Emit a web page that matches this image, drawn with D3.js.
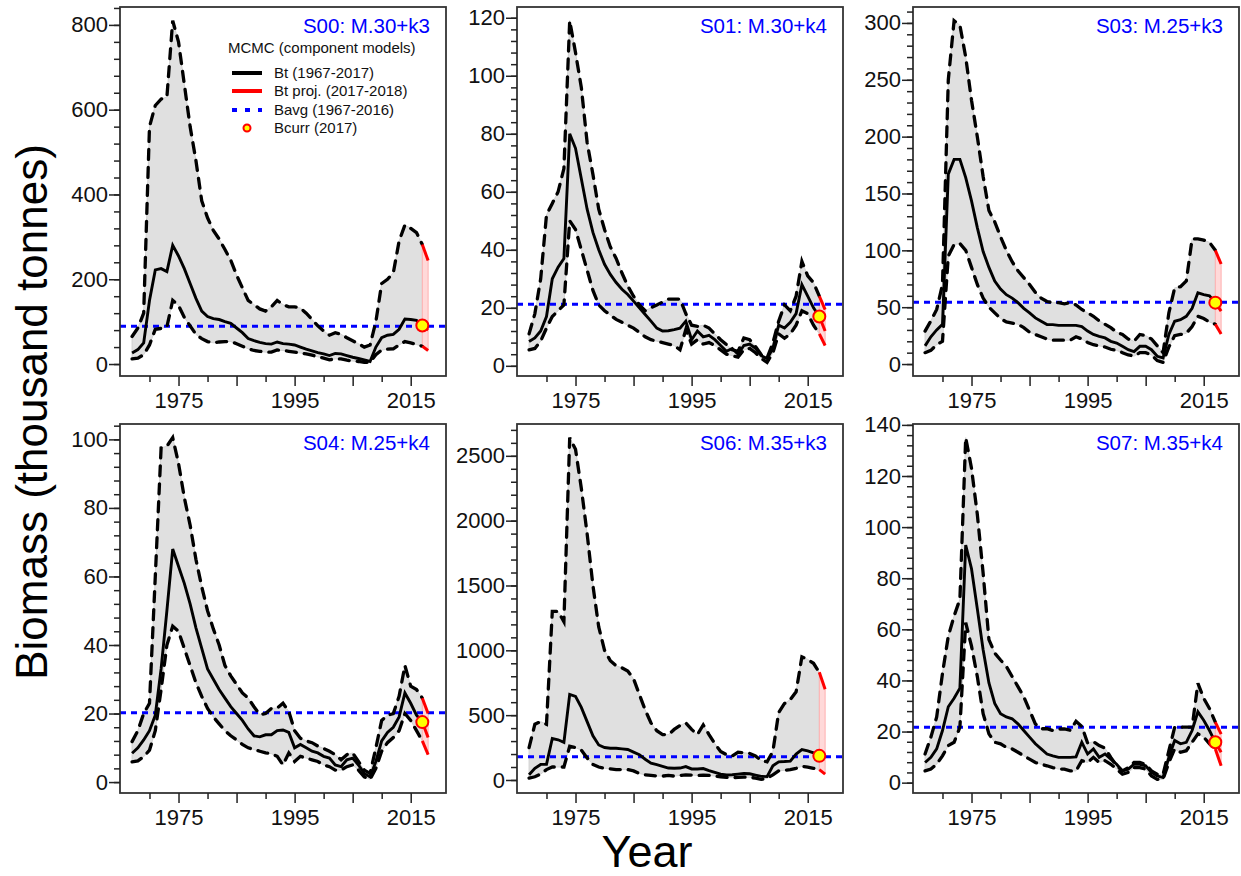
<!DOCTYPE html>
<html>
<head>
<meta charset="utf-8">
<script src="https://cdn.jsdelivr.net/npm/d3@7/dist/d3.min.js"></script>
<style>
  body { margin: 0; background: #ffffff; }
  svg { font-family: "Liberation Sans", Arial, sans-serif; }
</style>
</head>
<body>
<svg id="chart" width="1241" height="876"></svg>
<script>

//////////////////////
// Data
//////////////////////

var years = [1967, 1968, 1969, 1970, 1971, 1972, 1973, 1974, 1975, 1976,
             1977, 1978, 1979, 1980, 1981, 1982, 1983, 1984, 1985, 1986,
             1987, 1988, 1989, 1990, 1991, 1992, 1993, 1994, 1995, 1996,
             1997, 1998, 1999, 2000, 2001, 2002, 2003, 2004, 2005, 2006,
             2007, 2008, 2009, 2010, 2011, 2012, 2013, 2014, 2015, 2016,
             2017, 2018];
var xlim = [1967, 2019];
var lastObsYear = 2017;

var titles = ["S00: M.30+k3", "S01: M.30+k4", "S03: M.25+k3",
              "S04: M.25+k4", "S06: M.35+k3", "S07: M.35+k4"];
var yMajorStep = [200, 20, 50, 20, 500, 20];
var yMinorStep = [40, 4, 10, 4, 100, 4];
var bavg = [89, 21.2, 54.4, 20.2, 180, 21.7];

var s00Upper  = [65, 85, 120, 560, 610, 625, 630, 810, 760, 660,
                 560, 480, 385, 345, 315, 295, 270, 245, 210, 180,
                 150, 140, 130, 125, 135, 150, 140, 135, 135, 132,
                 120, 105, 90, 78, 68, 74, 70, 62, 55, 48,
                 40, 45, 100, 190, 200, 215, 290, 328, 320, 310,
                 282, 244];
var s00Median = [26, 34, 50, 150, 222, 225, 218, 280, 255, 225,
                 190, 155, 125, 112, 107, 105, 100, 96, 85, 74,
                 60, 55, 51, 48, 47, 52, 48, 47, 45, 40,
                 35, 31, 27, 24, 20, 25, 24, 20, 16, 13,
                 10, 6, 40, 62, 68, 70, 82, 106, 105, 103,
                 91, 80];
var s00Lower  = [12, 14, 22, 45, 82, 84, 88, 150, 138, 110,
                 90, 70, 60, 53, 50, 52, 53, 53, 48, 42,
                 36, 32, 30, 28, 28, 33, 32, 30, 28, 26,
                 24, 21, 17, 14, 10, 12, 12, 9, 7, 6,
                 4, 4, 22, 33, 35, 36, 45, 53, 50, 46,
                 42, 32];

var s01Upper  = [11, 18, 30, 52, 56, 60, 68, 119, 108, 96,
                 77, 66, 54, 47, 41, 37, 32, 27.5, 24, 21,
                 19, 20, 21, 22, 23, 23, 23, 18, 14, 13.6,
                 14, 13, 11, 9, 7.3, 5.5, 5, 9.6, 9, 6.7,
                 3.8, 2.7, 7.9, 15.4, 21, 19, 24, 36, 31, 28.7,
                 24, 19.4];
var s01Median = [8.4, 9.6, 12, 17, 30, 34, 37, 80, 75, 64.5,
                 54, 46, 40, 35, 31.5, 28.7, 26.4, 24.6, 22.3, 20,
                 17.7, 15.4, 13, 12, 12.1, 12.5, 13, 15.4, 9, 12,
                 10, 10.5, 9, 7, 5, 6, 4, 7, 7.5, 6,
                 3.5, 2.5, 6, 14, 13, 15, 18, 28, 24, 20,
                 17, 12];
var s01Lower  = [5.5, 6, 8.5, 13, 17, 19, 21, 50, 47, 40,
                 33, 26, 21, 19, 17.5, 16, 15, 14, 13, 11.5,
                 10, 9, 8.5, 8, 7.5, 7, 5.5, 12.5, 7.5, 9,
                 7.5, 8, 7, 5.5, 4, 3.5, 3, 5.5, 6, 4.5,
                 2.5, 1.2, 4.5, 11, 9.5, 11, 14, 19, 18, 14,
                 11, 7];

var s03Upper  = [29, 38, 48, 70, 250, 302, 298, 270, 232, 200,
                 165, 135, 125, 112, 100, 90, 82, 76, 70, 63,
                 58, 55, 54, 54, 53, 54, 52, 48, 45, 42,
                 38, 35, 32, 28, 26, 22, 20, 26, 25, 22,
                 16, 10, 45, 67, 68, 73, 110, 110, 109, 107,
                 100, 88];
var s03Median = [16, 24, 30, 35, 167, 180, 180, 164, 143.5, 120,
                 99, 85, 73, 66, 61, 58, 54, 49, 45, 40.6,
                 37.6, 34.7, 34.7, 34, 34, 34, 34, 33, 29, 26,
                 24.4, 23, 20, 18.5, 15.6, 12.6, 11, 15.6, 15.6, 12.6,
                 6.8, 5.3, 26, 37.6, 39, 42, 49, 62.6, 61, 60,
                 54, 46.5];
var s03Lower  = [10, 12, 17, 20, 95, 105, 106, 100, 85, 70,
                 58, 50, 45, 40, 37, 36, 35, 32, 28, 26,
                 24, 22, 21, 21, 21, 21, 24, 22, 19, 17,
                 16, 15, 13, 12, 10, 8, 7, 10, 10, 8,
                 3, 1.5, 15, 25, 26, 27, 33, 42, 40, 37,
                 35, 26.5];

var s04Upper  = [11.8, 15, 20, 23, 60, 97.5, 98, 100.5, 93, 83,
                 75, 65, 57, 50, 44.7, 40, 34, 31, 28.5, 26,
                 24.5, 22, 19.7, 20, 21.5, 21.6, 23, 20.6, 15, 12.8,
                 12, 11.5, 10.5, 9.8, 9, 8, 6.5, 8, 8.5, 6,
                 3.5, 2.5, 10, 18, 19.5, 20, 25, 34, 28, 27,
                 24.5, 20];
var s04Median = [8.4, 10, 12.3, 15, 19.5, 33, 50, 68, 63, 58,
                 52, 45, 39, 33, 30, 27, 24.5, 22, 20, 18,
                 15.5, 13.5, 13.2, 13.8, 13.8, 15, 15.2, 14.5, 10, 11,
                 10, 9, 8.5, 7.5, 7, 5, 4.5, 6.5, 7, 5,
                 2.5, 1.5, 6, 12, 14.5, 16, 19, 26, 23, 19.5,
                 17.5, 13];
var s04Lower  = [5.9, 6.2, 7.4, 9.3, 15, 27, 40, 45.5, 44, 39,
                 34, 29, 25, 21.5, 19, 17, 15, 13.5, 12.3, 11,
                 10, 9.5, 9, 8.5, 8.3, 7.5, 5, 8.5, 6, 7.5,
                 7, 6.5, 6, 5, 4.5, 3.5, 3.5, 4.5, 5, 3.5,
                 1.5, 0.8, 4, 9, 11.5, 13, 15, 20, 18, 15,
                 12, 8];

var s06Upper  = [250, 430, 450, 430, 1300, 1300, 1220, 2640, 2550, 2250,
                 1900, 1500, 1180, 1000, 920, 880, 865, 840, 780, 660,
                 540, 440, 380, 350, 350, 390, 420, 440, 390, 350,
                 425, 350, 280, 220, 195, 185, 215, 210, 205, 185,
                 150, 140, 220, 520, 590, 620, 680, 950, 930, 900,
                 830, 700];
var s06Median = [40, 90, 120, 120, 320, 310, 290, 660, 645, 560,
                 450, 340, 270, 250, 245, 245, 240, 235, 215, 195,
                 160, 130, 118, 105, 92, 90, 92, 103, 85, 85,
                 88, 72, 58, 45, 38, 40, 45, 50, 48, 38,
                 28, 26, 110, 140, 142, 145, 200, 235, 225, 210,
                 186, 170];
var s06Lower  = [15, 25, 45, 80, 100, 100, 100, 260, 250, 230,
                 170, 120, 100, 90, 85, 80, 80, 80, 70, 50,
                 40, 35, 30, 30, 35, 30, 35, 40, 38, 35,
                 38, 35, 30, 25, 20, 18, 20, 22, 20, 15,
                 5, 12, 40, 70, 75, 80, 90, 105, 100, 90,
                 80, 45];

var s07Upper  = [11.2, 17.8, 25.7, 42.8, 57.3, 65.2, 71.8, 135, 123, 105,
                 82, 56, 50.7, 48, 45.5, 41.5, 37.6, 33.6, 28.3, 23,
                 21.1, 21.1, 20.4, 21, 21, 20.5, 24, 22, 15.5, 16,
                 14.5, 13.5, 9.9, 6.6, 4.6, 5.9, 7.9, 7.9, 7.2, 4.6,
                 3.3, 3.3, 12.5, 21.7, 21.7, 21.7, 21.7, 38.9, 33, 29,
                 23.7, 19];
var s07Median = [7.9, 9.9, 13.2, 20.4, 29.7, 33, 37, 93, 83.7, 68,
                 52, 39, 31, 27, 25.7, 25, 23, 20.4, 17.8, 15.2,
                 13.2, 11.2, 10.5, 9.9, 9.9, 9.9, 10.1, 15.8, 11.2, 13.2,
                 9.9, 11.2, 9.2, 7.2, 4.6, 5.3, 7.2, 7.2, 6.6, 4,
                 2.6, 2, 9.9, 16.5, 15.2, 15.8, 20.4, 27.7, 24.4, 20.4,
                 15.8, 11.9];
var s07Lower  = [4.6, 5.3, 7.2, 10.5, 14.5, 15.8, 21.7, 62.6, 53.4, 41.5,
                 27, 19.1, 15.8, 15.2, 13.8, 13.2, 11.9, 10.5, 9.2, 7.9,
                 7.2, 6.6, 5.9, 5.3, 5.3, 4.6, 4.6, 8.6, 7.9, 9.9,
                 7.9, 8.6, 7.2, 5.3, 3.3, 4, 5.9, 5.9, 5.3, 2.6,
                 1.3, 1.3, 7.9, 13.2, 11.9, 12.5, 15.8, 19.1, 17.8, 15.2,
                 13.2, 6.6];

var upperSeries  = [s00Upper, s01Upper, s03Upper, s04Upper, s06Upper, s07Upper];
var medianSeries = [s00Median, s01Median, s03Median, s04Median, s06Median, s07Median];
var lowerSeries  = [s00Lower, s01Lower, s03Lower, s04Lower, s06Lower, s07Lower];

var legendLabels = ["Bt (1967-2017)", "Bt proj. (2017-2018)", "Bavg (1967-2016)", "Bcurr (2017)"];

//////////////////////
// Layout
//////////////////////

var panelW = 326, panelH = 369;
var colLeft = [120, 517, 913];
var rowTop = [7, 424];
var tickFont = 22;

var svg = d3.select("#chart");
svg.append("rect").attr("width", 1241).attr("height", 876).attr("fill", "#ffffff");

var xPad = 0.04 * (xlim[1] - xlim[0]);
var x = d3.scaleLinear()
    .domain([xlim[0] - xPad, xlim[1] + xPad])
    .range([0, panelW]);

function styleAxis(sel) {
    sel.select(".domain").remove();
    sel.selectAll(".tick line").attr("stroke", "#222").attr("stroke-width", 1.5);
    sel.selectAll(".tick text")
        .attr("fill", "#111")
        .attr("font-size", tickFont)
        .attr("font-family", "'Liberation Sans', Arial, sans-serif");
}

//////////////////////
// Panels
//////////////////////

titles.forEach(function (title, i) {

    var g = svg.append("g")
        .attr("transform", "translate(" + colLeft[i % 3] + "," + rowTop[Math.floor(i / 3)] + ")");

    var rows = years.map(function (yr, k) {
        return { year: yr, upp: upperSeries[i][k], med: medianSeries[i][k], low: lowerSeries[i][k] };
    });
    var hist = rows.filter(function (d) { return d.year <= lastObsYear; });
    var proj = rows.filter(function (d) { return d.year >= lastObsYear; });

    // y range like R: data range + 4%
    var lo = d3.min(lowerSeries[i]), hi = d3.max(upperSeries[i]);
    var pad = 0.04 * (hi - lo);
    var y = d3.scaleLinear().domain([lo - pad, hi + pad]).range([panelH, 0]);

    var band = d3.area()
        .x(function (d) { return x(d.year); })
        .y0(function (d) { return y(d.low); })
        .y1(function (d) { return y(d.upp); });

    function lineOf(key) {
        return d3.line()
            .x(function (d) { return x(d.year); })
            .y(function (d) { return y(d[key]); });
    }

    // credibility envelope
    g.append("path").datum(hist)
        .attr("d", band)
        .attr("fill", "#e0e0e0")
        .attr("stroke", "#d2d2d2")
        .attr("stroke-width", 1);

    g.append("path").datum(proj)
        .attr("d", band)
        .attr("fill", "#ffd9d9")
        .attr("stroke", "#ffb0b0")
        .attr("stroke-width", 1);

    // Bavg
    g.append("line")
        .attr("x1", 0).attr("x2", panelW)
        .attr("y1", y(bavg[i])).attr("y2", y(bavg[i]))
        .attr("stroke", "#0000ff")
        .attr("stroke-width", 3)
        .attr("stroke-dasharray", "6,5");

    // bounds
    ["upp", "low"].forEach(function (key) {
        g.append("path").datum(hist)
            .attr("d", lineOf(key))
            .attr("fill", "none")
            .attr("stroke", "#000")
            .attr("stroke-width", 3.3)
            .attr("stroke-linecap", "round")
            .attr("stroke-dasharray", "10,8");
    });

    // median
    g.append("path").datum(hist)
        .attr("d", lineOf("med"))
        .attr("fill", "none")
        .attr("stroke", "#000")
        .attr("stroke-width", 2.9);

    // projections
    ["upp", "med", "low"].forEach(function (key) {
        g.append("path").datum(proj)
            .attr("d", lineOf(key))
            .attr("fill", "none")
            .attr("stroke", "#ff0000")
            .attr("stroke-width", 3);
    });

    // Bcurr
    var cur = hist[hist.length - 1];
    g.append("circle")
        .attr("cx", x(cur.year))
        .attr("cy", y(cur.med))
        .attr("r", 6)
        .attr("fill", "#ffff00")
        .attr("stroke", "#ff0000")
        .attr("stroke-width", 2);

    // box
    g.append("rect")
        .attr("width", panelW).attr("height", panelH)
        .attr("fill", "none")
        .attr("stroke", "#333")
        .attr("stroke-width", 1.8);

    // y axis
    var top = y.domain()[1];
    var majors = d3.range(0, top, yMajorStep[i]);
    var minors = d3.range(0, top, yMinorStep[i]);

    g.append("g")
        .call(d3.axisLeft(y).tickValues(minors).tickSize(6).tickFormat(""))
        .call(styleAxis);
    g.append("g")
        .call(d3.axisLeft(y).tickValues(majors).tickSize(11).tickPadding(1).tickFormat(d3.format("d")))
        .call(styleAxis);

    // x axis
    g.append("g")
        .attr("transform", "translate(0," + panelH + ")")
        .call(d3.axisBottom(x).tickValues([1970, 1980, 1990, 2000, 2010]).tickSize(6).tickFormat(""))
        .call(styleAxis);
    g.append("g")
        .attr("transform", "translate(0," + panelH + ")")
        .call(d3.axisBottom(x).tickValues([1975, 1985, 1995, 2005, 2015]).tickSize(10).tickPadding(6)
            .tickFormat(function (d) { return (d - 1975) % 20 === 0 ? d : ""; }))
        .call(styleAxis);

    // title
    g.append("text")
        .attr("x", panelW - 16)
        .attr("y", 26)
        .attr("text-anchor", "end")
        .attr("font-size", 20.5)
        .attr("fill", "#0000ff")
        .text(title);

    // legend in first panel
    if (i === 0) {
        var lg = g.append("g").attr("transform", "translate(108,0)");
        lg.append("text")
            .attr("x", 0).attr("y", 46)
            .attr("font-size", 15)
            .attr("fill", "#111")
            .text("MCMC (component models)");

        var rowY = [66, 84, 103, 121];
        lg.append("line").attr("x1", 4).attr("x2", 34).attr("y1", rowY[0]).attr("y2", rowY[0])
            .attr("stroke", "#000").attr("stroke-width", 4);
        lg.append("line").attr("x1", 4).attr("x2", 34).attr("y1", rowY[1]).attr("y2", rowY[1])
            .attr("stroke", "#ff0000").attr("stroke-width", 4);
        lg.append("line").attr("x1", 4).attr("x2", 34).attr("y1", rowY[2]).attr("y2", rowY[2])
            .attr("stroke", "#0000ff").attr("stroke-width", 4).attr("stroke-dasharray", "5,8");
        lg.append("circle").attr("cx", 19).attr("cy", rowY[3]).attr("r", 3.5)
            .attr("fill", "#ffff00").attr("stroke", "#ff0000").attr("stroke-width", 2);

        lg.selectAll("text.lab")
            .data(legendLabels)
            .enter()
            .append("text")
            .attr("class", "lab")
            .attr("x", 46)
            .attr("y", function (d, k) { return rowY[k] + 5; })
            .attr("font-size", 15)
            .attr("fill", "#111")
            .text(function (d) { return d; });
    }
});

//////////////////////
// Outer labels
//////////////////////

svg.append("text")
    .attr("x", 647).attr("y", 867)
    .attr("text-anchor", "middle")
    .attr("font-size", 45)
    .attr("fill", "#000")
    .text("Year");

svg.append("text")
    .attr("transform", "translate(47,412) rotate(-90)")
    .attr("text-anchor", "middle")
    .attr("font-size", 44)
    .attr("fill", "#000")
    .text("Biomass (thousand tonnes)");

</script>
</body>
</html>
